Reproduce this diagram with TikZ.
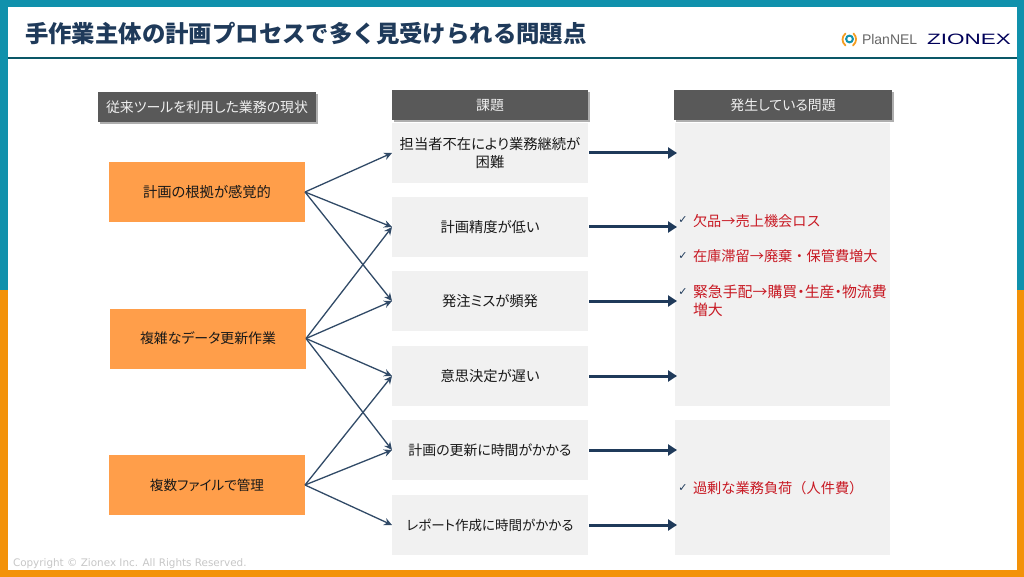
\documentclass[tikz,border=0pt]{standalone}
\usepackage{fontspec}
\setmainfont{Noto Sans CJK JP}[RawFeature=+palt]
\newfontfamily\fullwidth{Noto Sans CJK JP}
\newfontfamily\cpfont{DejaVu Sans}
\newfontfamily\logofont{Liberation Sans}
\usetikzlibrary{arrows.meta,shadows,calc}
\definecolor{teal1}{HTML}{1091AC}
\definecolor{orange1}{HTML}{F39208}
\definecolor{orangebox}{HTML}{FF9E4A}
\definecolor{greybox}{HTML}{F1F1F1}
\definecolor{headbox}{HTML}{595959}
\definecolor{navy1}{HTML}{1F3A5A}
\definecolor{red1}{HTML}{C81A24}
\tikzset{
  x=1pt,y=-1pt,
  every node/.style={inner sep=0pt,outer sep=0pt,align=center},
  bodytext/.style={font=\fontsize{14.3}{17.5}\selectfont,text=black!90},
  headbox/.style={fill=headbox,text=white!94!black,minimum height=30pt,
     font=\fontsize{13.9}{17}\selectfont,
     general shadow={shadow xshift=2pt,shadow yshift=-2pt,fill=black!45,opacity=.7}},
  orangebox/.style={bodytext,fill=orangebox,minimum width=196pt,minimum height=60pt},
  issuebox/.style={bodytext,fill=greybox,minimum width=196pt,minimum height=60pt},
  problembox/.style={fill=greybox,minimum width=215pt},
  thin arrow/.style={draw=navy1!92!white,line width=1.3pt,-{Stealth[length=8pt,width=7.5pt]}},
  thick arrow/.style={draw=navy1,line width=3pt,-{Triangle[length=9pt,width=11pt]}},
  redtext/.style={anchor=west,align=left,text=red1,font=\fullwidth\fontsize{14.2}{18}\selectfont},
  redtextnarrow/.style={anchor=west,align=left,text=red1,font=\fontsize{14.9}{18}\selectfont},
  tick/.style={anchor=center,text=navy1,font=\cpfont\fontsize{11}{12}\selectfont},
}
\begin{document}
\begin{tikzpicture}
\useasboundingbox (0,0) rectangle (1024,577);
% frame
\fill[teal1] (0,0) rectangle (1024,290);
\fill[orange1] (0,290) rectangle (1024,577);
\fill[white] (8,7) rectangle (1017,570);
\fill[teal1!60!black] (8,57) rectangle (1017,58.6);
% title
\node[anchor=west,text=navy1,font=\fullwidth\bfseries\fontsize{23.4}{26}\selectfont] (title) at (25,33.5) {手作業主体の計画プロセスで多く見受けられる問題点};
% logos
\draw[orange1!90!white,line width=1.8pt,line cap=round] (845.5,33.5) .. controls (841.5,37) and (841.5,42) .. (845.5,45.5);
\draw[orange1!90!white,line width=1.8pt,line cap=round] (853.5,33.5) .. controls (857,37) and (857,42) .. (853,45.5);
\draw[teal1,line width=2pt] (849.5,39) circle[radius=3.4];
\node[anchor=west,text=black!60,font=\logofont\fontsize{14}{16}\selectfont] (plannel) at (862,39.5) {PlanNEL};
\node[anchor=west,text=blue!35!black,font=\logofont\fontsize{15}{16}\selectfont] (zionex) at (927,39) {\scalebox{1.5}[1]{ZIONEX}};
% headers
\node[headbox,minimum width=218pt] (h1) at (207,107) {従来ツールを利用した業務の現状};
\node[headbox,minimum width=196pt] (h2) at (490,105) {課題};
\node[headbox,minimum width=218pt] (h3) at (783,105) {発生している問題};
% problem boxes
\node[problembox,minimum height=283pt] (p1) at (782.5,264.5) {};
\node[problembox,minimum height=135pt] (p2) at (782.5,487.5) {};
% left boxes
\node[orangebox] (o1) at (207,192) {計画の根拠が感覚的};
\node[orangebox,font=\fontsize{13.9}{17}\selectfont] (o2) at (208,338.5) {複雑なデータ更新作業};
\node[orangebox,font=\fontsize{13.6}{17}\selectfont] (o3) at (207,485) {複数ファイルで管理};
% middle boxes
\node[issuebox] (t1) at (490,153) {担当者不在により業務継続が\\困難};
\node[issuebox] (t2) at (490,227) {計画精度が低い};
\node[issuebox] (t3) at (490,301) {発注ミスが頻発};
\node[issuebox] (t4) at (490,376) {意思決定が遅い};
\node[issuebox,font=\fontsize{13.9}{17}\selectfont] (t5) at (490,450) {計画の更新に時間がかかる};
\node[issuebox,font=\fontsize{13.5}{17}\selectfont] (t6) at (490,525) {レポート作成に時間がかかる};
% thin connectors
\foreach \a/\b in {o1/t1,o1/t2,o1/t3,o2/t2,o2/t3,o2/t4,o2/t5,o3/t4,o3/t5,o3/t6}
  \draw[thin arrow] (\a.east) -- (\b.west);
% thick connectors
\foreach \b/\p in {t1/p1,t2/p1,t3/p1,t4/p1,t5/p2,t6/p2}
  \draw[thick arrow] ($(\b.east)+(1,0)$) -- ($(\b.east -| \p.west)+(2,0)$);
% problem text
\node[tick] (c1) at (683,220.5) {✓};
\node[redtext] (r1) at (693,221) {欠品→売上機会ロス};
\node[tick] (c2) at (683,256.5) {✓};
\node[redtext] (r2) at (693,256.5) {在庫滞留→廃棄・保管費増大};
\node[tick] (c3) at (683,292.5) {✓};
\node[redtextnarrow] (r3) at (693,301) {緊急手配→購買・生産・物流費\\増大};
\node[tick] (c4) at (683,488.5) {✓};
\node[redtext] (r4) at (693,488.5) {過剰な業務負荷（人件費）};
% copyright
\node[anchor=west,text=black!22,font=\cpfont\fontsize{10.4}{12}\selectfont] (copy) at (13,563.5) {Copyright © Zionex Inc. All Rights Reserved.};
\end{tikzpicture}
\end{document}
